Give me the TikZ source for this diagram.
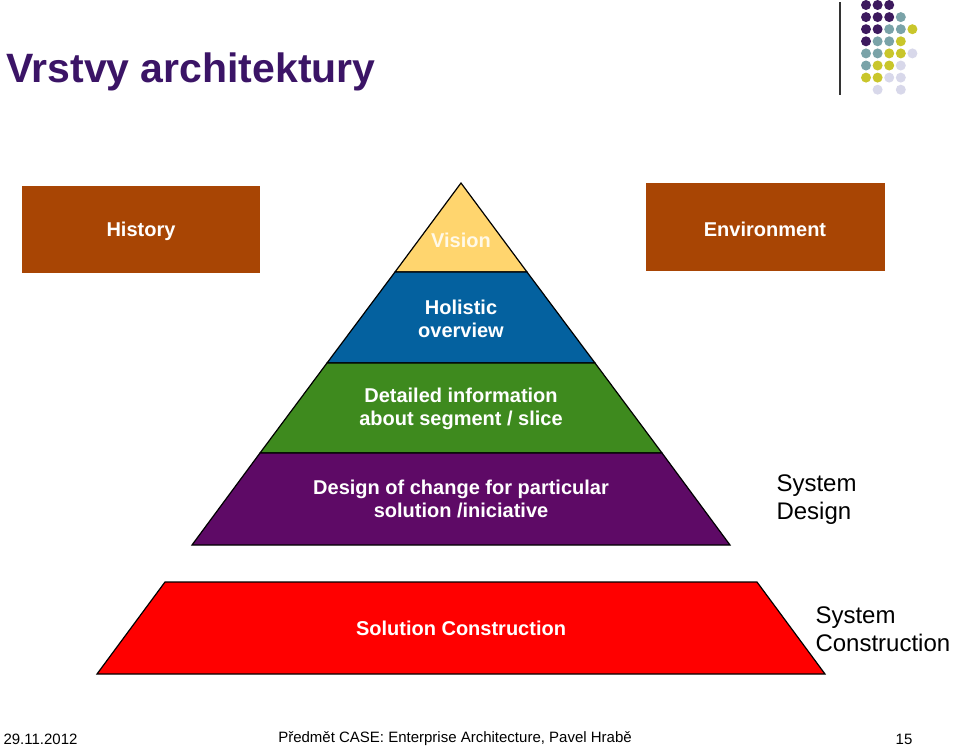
\documentclass[tikz,border=0pt]{standalone}
\usepackage{fontspec}
\setmainfont{Liberation Sans}
\begin{document}
\begin{tikzpicture}[x=1pt,y=-1pt,
 lay/.style={draw=black,line width=1.2pt,line join=miter},
 wt/.style={text=white,font=\bfseries\fontsize{20}{23}\selectfont,align=center},
 side/.style={font=\fontsize{24}{28}\selectfont,align=left,anchor=west},
 dot/.style={circle,inner sep=0pt,minimum size=10pt}]
\definecolor{orangebox}{HTML}{A84504}
\definecolor{vis}{HTML}{FFD56E}
\definecolor{hol}{HTML}{04619F}
\definecolor{det}{HTML}{3E8A1E}
\definecolor{des}{HTML}{5E0A66}
\definecolor{ttl}{HTML}{3B1466}
\definecolor{dP}{HTML}{3D1A5E}
\definecolor{dT}{HTML}{7AA3A8}
\definecolor{dY}{HTML}{C9C62B}
\definecolor{dL}{HTML}{D8D8EA}
\useasboundingbox (0,0) rectangle (960,748);
\node[anchor=west,text=ttl,font=\bfseries\fontsize{41}{46}\selectfont] (title) at (3,72) {Vrstvy architektury};
\draw[line width=1.2pt,black!80] (840,2) -- (840,95);
% dots
\foreach \r/\c/\k in {0/0/dP,0/1/dP,0/2/dP,1/0/dP,1/1/dP,1/2/dP,1/3/dT,2/0/dP,2/1/dP,2/2/dT,2/3/dT,2/4/dY,3/0/dP,3/1/dT,3/2/dT,3/3/dY,4/0/dT,4/1/dT,4/2/dY,4/3/dY,4/4/dL,5/0/dT,5/1/dY,5/2/dY,5/3/dL,6/0/dY,6/1/dY,6/2/dL,6/3/dL,7/1/dL,7/3/dL}
 \node[dot,fill=\k] (d\r\c) at (866+11.6*\c,5+12.1*\r) {};
% boxes
\fill[orangebox] (22,186) rectangle (260,273);
\node[wt] (hist) at (141,231) {History};
\fill[orangebox] (646,183) rectangle (885,271);
\node[wt] (env) at (765,229) {Environment};
% pyramid
\draw[lay,fill=vis] (461,183) -- (527,272) -- (395,272) -- cycle;
\draw[lay,fill=hol] (395,272) -- (527,272) -- (595,363) -- (327,363) -- cycle;
\draw[lay,fill=det] (327,363) -- (595,363) -- (662,453) -- (260,453) -- cycle;
\draw[lay,fill=des] (260,453) -- (662,453) -- (730,545) -- (192,545) -- cycle;
\draw[lay,fill=red] (165,582) -- (757,582) -- (825,674) -- (97,674) -- cycle;
\node[wt,text=white!85!vis] (vision) at (461,240) {Vision};
\node[wt] (holistic) at (461,319) {Holistic\\overview};
\node[wt] (detail) at (461,409) {Detailed information\\about segment / slice};
\node[wt] (design) at (461,499) {Design of change for particular\\solution /iniciative};
\node[wt] (sol) at (461,628) {Solution Construction};
\node[side] (sd) at (773,500) {System\\Design};
\node[side] (sc) at (812,629) {System\\Construction};
% footer
\node[anchor=west,font=\fontsize{15}{18}\selectfont] (date) at (0,739) {29.11.2012};
\node[font=\fontsize{15}{18}\selectfont] (foot) at (455,739) {Předmět CASE: Enterprise Architecture, Pavel Hrabě};
\node[font=\fontsize{15}{18}\selectfont] (num) at (904,739) {15};
\end{tikzpicture}
\end{document}
